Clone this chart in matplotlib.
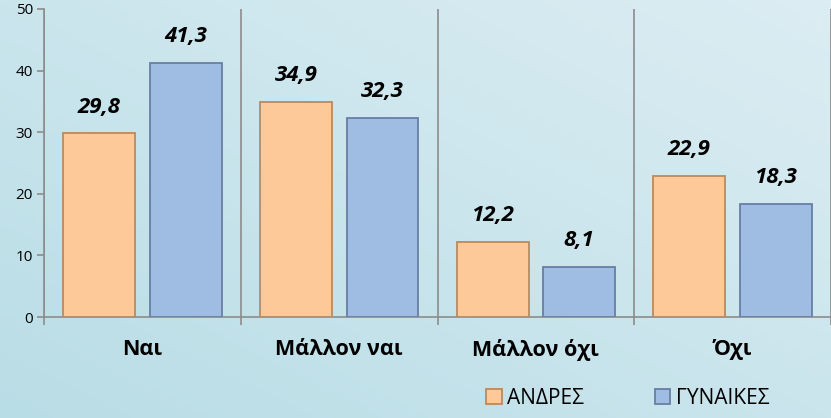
import numpy as np
import matplotlib.pyplot as plt
from matplotlib.colors import LinearSegmentedColormap

plt.rcParams['font.family'] = ['Open Sans', 'DejaVu Sans']

categories = ['Ναι', 'Μάλλον ναι', 'Μάλλον όχι', 'Όχι']
men = [29.8, 34.9, 12.2, 22.9]
women = [41.3, 32.3, 8.1, 18.3]
series_names = ['ΑΝΔΡΕΣ', 'ΓΥΝΑΙΚΕΣ']

fig = plt.figure(figsize=(8.31, 4.18), dpi=100)

# background gradient
bg = fig.add_axes([0, 0, 1, 1], zorder=-10)
gx, gy = np.meshgrid(np.linspace(0, 1, 200), np.linspace(0, 1, 100))
grad = 0.5 * gx + 0.5 * gy
cmap = LinearSegmentedColormap.from_list('bg', ['#b9dde6', '#dcedf3'])
bg.imshow(grad, cmap=cmap, aspect='auto', origin='lower', extent=[0, 1, 0, 1])
bg.axis('off')

ax = fig.add_axes([0.053, 0.2416, 0.947, 0.737])
ax.patch.set_alpha(0)

x = np.arange(len(categories))
w = 0.365
off = 0.22
b1 = ax.bar(x - off, men, w, color='#fec999', edgecolor='#b98a5e', linewidth=1.3, zorder=3)
b2 = ax.bar(x + off, women, w, color='#9fbce2', edgecolor='#687fa5', linewidth=1.3, zorder=3)

for bars, vals in ((b1, men), (b2, women)):
    for rect, v in zip(bars, vals):
        ax.annotate(f'{v:.1f}'.replace('.', ','), (rect.get_x() + rect.get_width() / 2, v),
                    xytext=(0, 19), textcoords='offset points', ha='center', va='center',
                    fontsize=16, fontweight='bold', fontstyle='italic', color='black')

ax.set_xlim(-0.5, len(categories) - 0.5)
ax.set_ylim(0, 50)
ax.set_yticks(range(0, 51, 10))
ax.set_xticks(x)
ax.set_xticklabels(categories, fontsize=15.5, fontweight='bold')
ax.set_xticks(np.arange(-0.5, len(categories), 1), minor=True)
ax.tick_params(axis='x', which='major', length=0, pad=16)
ax.tick_params(axis='x', which='minor', length=6, color='#8c8c8c', width=1.2)
ax.tick_params(axis='y', length=5, color='#8c8c8c', width=1.2, labelsize=11, pad=3)
ax.grid(axis='x', which='minor', color='#8c8c8c', linewidth=1.2)
for s in ('top', 'right'):
    ax.spines[s].set_visible(False)
for s in ('left', 'bottom'):
    ax.spines[s].set_color('#8c8c8c')
    ax.spines[s].set_linewidth(1.2)

fig.legend([b1, b2], series_names, loc='center left', bbox_to_anchor=(486 / 831, 1 - 398 / 418),
           bbox_transform=fig.transFigure, ncol=2, frameon=False, fontsize=15,
           handlelength=0.75, handleheight=0.75, handletextpad=0.25, columnspacing=3.4,
           borderpad=0, borderaxespad=0)

fig.savefig('out.png', dpi=100)
